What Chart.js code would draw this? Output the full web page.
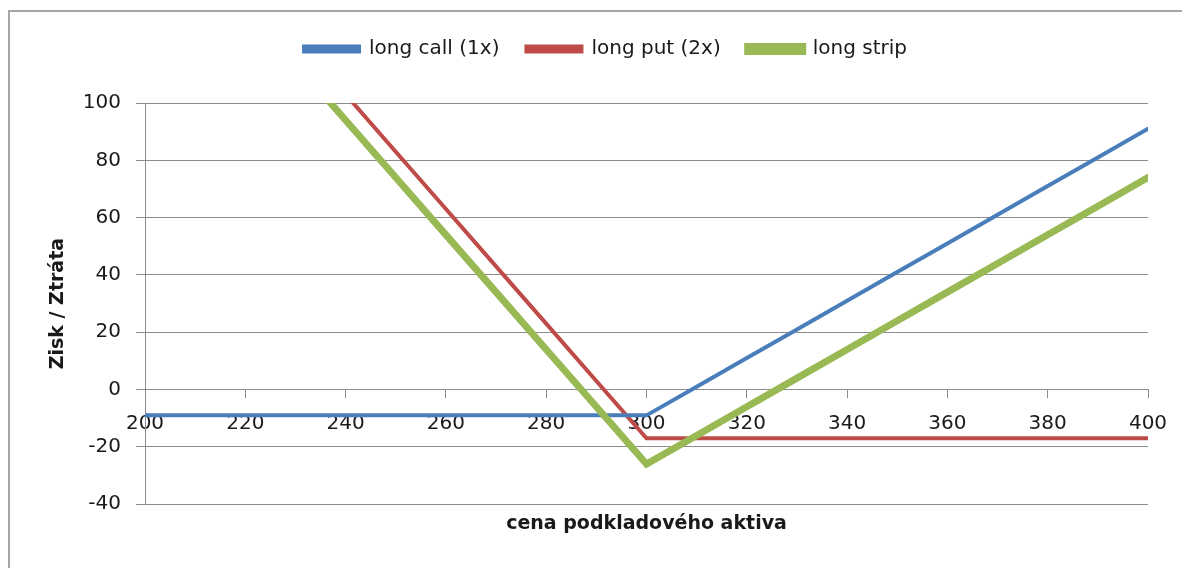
<!DOCTYPE html>
<html>
<head>
<meta charset="utf-8">
<script src="https://cdn.jsdelivr.net/npm/chart.js@4/dist/chart.umd.min.js"></script>
<style>
    html, body { margin: 0; padding: 0; background: #fff; }
    #wrap { position: relative; width: 1182px; height: 568px; }
    #frame {
        position: absolute; left: 8px; top: 10px; right: 0; bottom: 0;
        border-top: 2px solid #a6a6a6; border-left: 2px solid #a6a6a6;
    }
    #chart { position: absolute; left: 0; top: 0; }
</style>
</head>
<body>
<div id="wrap">
    <div id="frame"></div>
    <canvas id="chart" width="1182" height="568"></canvas>
</div>
<script>
// Cena podkladoveho aktiva (x)
const prices = [200, 210, 220, 230, 240, 250, 260, 270, 280, 290, 300,
                310, 320, 330, 340, 350, 360, 370, 380, 390, 400];

// Zisk / ztrata jednotlivych pozic
const longCall = [-9, -9, -9, -9, -9, -9, -9, -9, -9, -9, -9,
                  1, 11, 21, 31, 41, 51, 61, 71, 81, 91];
const longPut2x = [183, 163, 143, 123, 103, 83, 63, 43, 23, 3, -17,
                   -17, -17, -17, -17, -17, -17, -17, -17, -17, -17];
const longStrip = [174, 154, 134, 114, 94, 74, 54, 34, 14, -6, -26,
                   -16, -6, 4, 14, 24, 34, 44, 54, 64, 74];

const seriesNames = ['long call (1x)', 'long put (2x)', 'long strip'];
const seriesColors = ['#4a7ebb', '#be4b48', '#98b954'];

const gridColor = '#8c8c8c';
const textColor = '#1a1a1a';
const fontFamily = '"DejaVu Sans", sans-serif';

function toPoints(values) {
    return prices.map((p, i) => ({ x: p, y: values[i] }));
}

// legend box taller (gap under it) and nudged a bit to the right
const legendTweak = {
    id: 'legendTweak',
    beforeInit(chart) {
        const legend = chart.legend;
        const origFit = legend.fit;
        const origDraw = legend.draw;
        legend.fit = function () {
            origFit.call(this);
            this.height = 92;
        };
        legend.draw = function () {
            const c = this.ctx;
            c.save();
            c.translate(9, 1);
            origDraw.call(this);
            c.restore();
        };
    }
};

const ctx = document.getElementById('chart').getContext('2d');

new Chart(ctx, {
    type: 'line',
    data: {
        datasets: [
            {
                label: seriesNames[0],
                data: toPoints(longCall),
                borderColor: seriesColors[0],
                backgroundColor: seriesColors[0],
                borderWidth: 4,
                order: 2
            },
            {
                label: seriesNames[1],
                data: toPoints(longPut2x),
                borderColor: seriesColors[1],
                backgroundColor: seriesColors[1],
                borderWidth: 4,
                order: 3
            },
            {
                label: seriesNames[2],
                data: toPoints(longStrip),
                borderColor: seriesColors[2],
                backgroundColor: seriesColors[2],
                borderWidth: 7,
                order: 1
            }
        ]
    },
    options: {
        responsive: false,
        animation: false,
        elements: {
            point: { radius: 0 },
            line: { tension: 0, borderCapStyle: 'round' }
        },
        layout: {
            padding: { left: 45, right: 34, top: 11, bottom: 25 }
        },
        plugins: {
            tooltip: { enabled: false },
            legend: {
                position: 'top',
                labels: {
                    boxWidth: 55,
                    boxHeight: 5,
                    padding: 27,
                    color: textColor,
                    font: { family: fontFamily, size: 20 },
                    sort: (a, b) => a.datasetIndex - b.datasetIndex
                }
            },
            title: {
                display: true,
                position: 'bottom',
                fullSize: false,
                text: 'cena podkladového aktiva',
                color: textColor,
                font: { family: fontFamily, size: 19, weight: 'bold' },
                padding: { top: 8, bottom: 8 }
            }
        },
        scales: {
            x: {
                type: 'linear',
                min: 200,
                max: 400,
                position: { y: 0 },
                ticks: {
                    stepSize: 20,
                    color: textColor,
                    padding: 14,
                    font: { family: fontFamily, size: 20 }
                },
                grid: {
                    drawOnChartArea: false,
                    drawTicks: true,
                    tickLength: 8,
                    color: gridColor
                },
                border: { display: true, color: gridColor, width: 1 }
            },
            y: {
                min: -40,
                max: 100,
                ticks: {
                    stepSize: 20,
                    color: textColor,
                    padding: 15,
                    font: { family: fontFamily, size: 20 }
                },
                grid: {
                    color: gridColor,
                    tickLength: 9
                },
                border: { display: true, color: gridColor, width: 1 },
                title: {
                    display: true,
                    text: 'Zisk / Ztráta',
                    color: textColor,
                    font: { family: fontFamily, size: 19, weight: 'bold' },
                    padding: { top: 2, bottom: 0 }
                },
                afterFit: scale => { scale.width = 100; }
            }
        }
    },
    plugins: [legendTweak]
});
</script>
</body>
</html>
